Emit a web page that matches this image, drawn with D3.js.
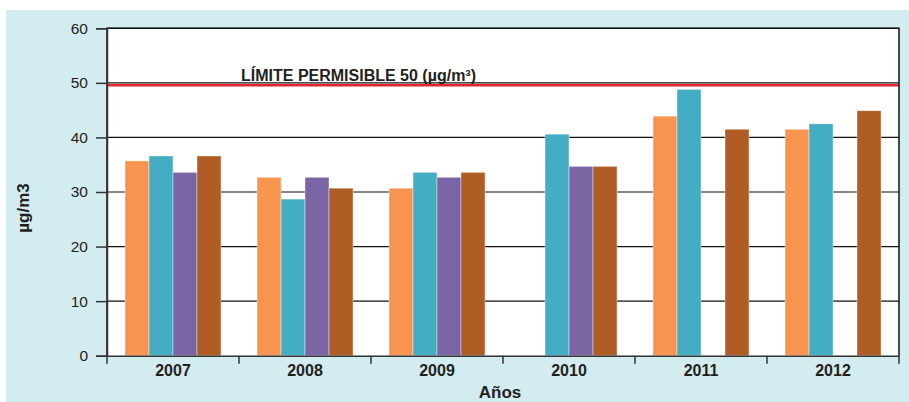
<!DOCTYPE html>
<html lang="es">
	<head>
		<meta charset="utf-8">
		<title>PM10</title>
		<script src="https://cdn.jsdelivr.net/npm/d3@7"></script>
		<style>
			body { margin: 0; background: #fff; }
			text { font-family: "Liberation Sans", Arial, sans-serif; fill: #231f20; }
		</style>
	</head>
	<body>
		<script>
			//Data
			var years = ["2007", "2008", "2009", "2010", "2011", "2012"];
			var serie1 = [35.7, 32.7, 30.7, null, 43.9, 41.5];  //naranja
			var serie2 = [36.6, 28.7, 33.6, 40.6, 48.8, 42.5];  //celeste
			var serie3 = [33.6, 32.7, 32.7, 34.7, null, null];  //morado
			var serie4 = [36.6, 30.7, 33.6, 34.7, 41.5, 44.9];  //marrón
			var series = [serie1, serie2, serie3, serie4];
			var colors = ["#f79550", "#43adc4", "#7b66a5", "#b05c25"];
			var yTicks = [0, 10, 20, 30, 40, 50, 60];
			var limite = 49.55;
			var limiteLabel = "LÍMITE PERMISIBLE 50 (µg/m³)";

			var w = 909, h = 402;
			var pLeft = 107, pRight = 899, pTop = 28.3, pBottom = 355.7;

			var svg = d3.select("body").append("svg")
				.attr("width", w)
				.attr("height", h);

			//Fondo celeste
			svg.append("rect")
				.attr("x", 6).attr("y", 10)
				.attr("width", w - 6).attr("height", h - 10)
				.attr("fill", "#d3ecef");

			svg.append("rect")
				.attr("x", pLeft).attr("y", pTop)
				.attr("width", pRight - pLeft).attr("height", pBottom - pTop)
				.attr("fill", "#fff");

			var x = d3.scaleBand().domain(years).range([pLeft, pRight]);
			var y = d3.scaleLinear().domain([0, 60]).range([pBottom, pTop]);

			//Gridlines
			svg.append("g")
				.selectAll("line")
				.data(yTicks.slice(1))
				.enter()
				.append("line")
				.attr("x1", pLeft).attr("x2", pRight)
				.attr("y1", function(d) { return y(d); })
				.attr("y2", function(d) { return y(d); })
				.attr("stroke", "#111")
				.attr("stroke-width", 1.2);

			//Bars
			var barW = 24;
			var sub = d3.scaleBand().domain([0, 1, 2, 3])
				.range([0, barW * 4]);
			var offset = (x.bandwidth() - barW * 4) / 2;

			series.forEach(function(s, j) {
				svg.append("g")
					.selectAll("rect")
					.data(s.map(function(v, i) { return {year: years[i], v: v}; })
						.filter(function(d) { return d.v != null; }))
					.enter()
					.append("rect")
					.attr("x", function(d) { return x(d.year) + offset + sub(j); })
					.attr("y", function(d) { return y(d.v); })
					.attr("width", sub.bandwidth())
					.attr("height", function(d) { return pBottom - y(d.v); })
					.attr("fill", colors[j])
					.attr("stroke", "rgba(255,255,255,0.5)")
					.attr("stroke-width", 0.8);
			});

			//Limite
			svg.append("line")
				.attr("x1", pLeft).attr("x2", pRight)
				.attr("y1", y(limite)).attr("y2", y(limite))
				.attr("stroke", "#e8252e")
				.attr("stroke-width", 2.6);

			svg.append("text")
				.attr("x", 241).attr("y", 81)
				.attr("font-size", "16px")
				.attr("font-weight", "bold")
				.text(limiteLabel);

			//Frame
			svg.append("path")
				.attr("d", "M" + pLeft + "," + pBottom + "V" + pTop + "H" + pRight + "V" + pBottom)
				.attr("fill", "none")
				.attr("stroke", "#111")
				.attr("stroke-width", 1.5);

			//Y axis
			var yAxis = d3.axisLeft(y).tickValues(yTicks).tickSize(11).tickPadding(8);
			var gy = svg.append("g")
				.attr("transform", "translate(" + pLeft + ",0)")
				.call(yAxis);
			gy.select(".domain").attr("stroke", "#333").attr("stroke-width", 1.5);
			gy.selectAll(".tick line").attr("stroke", "#333").attr("stroke-width", 1.5);
			gy.selectAll("text")
				.attr("font-size", "15.5px")
				.attr("font-family", "Liberation Sans, Arial, sans-serif")
				.attr("fill", "#231f20");

			//X axis
			var xAxis = d3.axisBottom(x).tickSize(0).tickPadding(9.4);
			var gx = svg.append("g")
				.attr("transform", "translate(0," + pBottom + ")")
				.call(xAxis);
			gx.select(".domain").attr("stroke", "#333").attr("stroke-width", 1.5);
			gx.selectAll("text")
				.attr("font-size", "16px")
				.attr("font-weight", "bold")
				.attr("font-family", "Liberation Sans, Arial, sans-serif")
				.attr("fill", "#231f20");

			//Ticks en los limites de categoria
			svg.append("g")
				.selectAll("line")
				.data(years.concat(["end"]))
				.enter()
				.append("line")
				.attr("x1", function(d) { return d == "end" ? pRight : x(d); })
				.attr("x2", function(d) { return d == "end" ? pRight : x(d); })
				.attr("y1", pBottom).attr("y2", pBottom + 8)
				.attr("stroke", "#333")
				.attr("stroke-width", 1.5);

			//Titulos de ejes
			svg.append("text")
				.attr("x", 500).attr("y", 398)
				.attr("text-anchor", "middle")
				.attr("font-size", "17px")
				.attr("font-weight", "bold")
				.text("Años");

			svg.append("text")
				.attr("transform", "translate(28.5,208) rotate(-90)")
				.attr("text-anchor", "middle")
				.attr("font-size", "17px")
				.attr("font-weight", "bold")
				.text("µg/m3");
		</script>
	</body>
</html>
